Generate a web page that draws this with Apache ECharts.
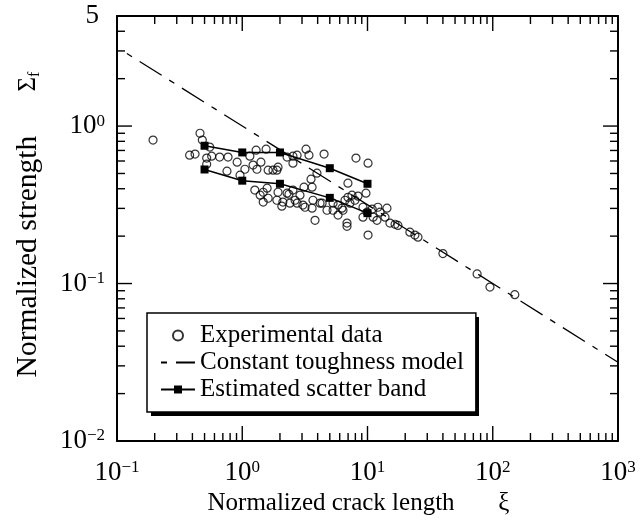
<!DOCTYPE html>
<html>
<head>
<meta charset="utf-8">
<script src="https://cdn.jsdelivr.net/npm/echarts@6/dist/echarts.min.js"></script>
<style>
  html, body { margin: 0; padding: 0; background: #fff; }
  #chart { width: 640px; height: 523px; }
</style>
</head>
<body>
<div id="chart"></div>
<script>
  // experimental data (normalized crack length, normalized strength)
  const expX = [0.194, 0.46, 0.48, 0.55, 0.38, 0.42, 0.52, 0.57, 0.66, 0.77, 0.91, 0.52, 0.755, 0.96, 1.05,
    1.15, 1.29, 1.55, 1.22, 1.41, 1.31, 1.61, 1.76, 1.89, 1.93, 2.28, 2.54, 2.74, 3.23, 3.41,
    2.54, 4.5, 3.95, 3.54, 1.26, 1.47, 1.58, 1.39, 1.61, 1.93, 2.28, 2.54, 2.89, 3.11, 3.61,
    1.47, 1.89, 2.11, 2.4, 2.74, 3.67, 3.05, 4.34, 5.31, 8.09, 10.1, 6.98, 9.72, 2.36, 2.07,
    2.64, 3.17, 3.61, 4.18, 5.82, 6.25, 6.61, 6.98, 7.52, 7.94, 8.4, 7.24, 6.37, 5.31, 4.75,
    5.82, 9.2, 9.91, 10.9, 12.1, 12.6, 14.3, 13.8, 9.2, 11.1, 11.9, 15.1, 16.6, 17.5, 3.81,
    6.86, 6.86, 10.1, 21.8, 23.9, 25.3, 40, 75, 95, 150];
  const expY = [0.815, 0.9, 0.815, 0.735, 0.653, 0.664, 0.626, 0.644, 0.635, 0.635, 0.59, 0.573, 0.517, 0.488, 0.532,
    0.644, 0.703, 0.713, 0.565, 0.59, 0.532, 0.525, 0.525, 0.525, 0.548, 0.635, 0.644, 0.653, 0.713, 0.653,
    0.581, 0.664, 0.502, 0.46, 0.392, 0.38, 0.403, 0.364, 0.348, 0.38, 0.375, 0.392, 0.364, 0.409, 0.409,
    0.329, 0.338, 0.329, 0.324, 0.324, 0.338, 0.315, 0.324, 0.324, 0.626, 0.581, 0.434, 0.375, 0.369, 0.31,
    0.338, 0.305, 0.301, 0.324, 0.315, 0.301, 0.338, 0.353, 0.364, 0.338, 0.359, 0.324, 0.292, 0.292, 0.292,
    0.272, 0.305, 0.284, 0.297, 0.305, 0.284, 0.301, 0.264, 0.264, 0.264, 0.252, 0.242, 0.238, 0.234, 0.252,
    0.242, 0.231, 0.203, 0.212, 0.203, 0.197, 0.155, 0.115, 0.095, 0.085];

  // constant toughness model line
  const modelX = [0.12, 1000];
  const modelY = [2.89, 0.0316];

  // estimated scatter band
  const bandX = [0.5, 1, 2, 5, 10];
  const bandUpper = [0.75, 0.68, 0.68, 0.54, 0.43];
  const bandLower = [0.53, 0.45, 0.43, 0.35, 0.28];

  // tick labels
  const xTicks = [0.1, 1, 10, 100, 1000];
  const xTickExp = ['−1', '0', '1', '2', '3'];
  const yTicks = [0.01, 0.1, 1, 5];
  const yTickBase = ['10', '10', '10', '5'];
  const yTickExp = ['−2', '−1', '0', ''];
  // minor tick positions
  const xMinor = [0.2, 0.3, 0.4, 0.5, 0.6, 0.7, 0.8, 0.9, 2, 3, 4, 5, 6, 7, 8, 9,
    20, 30, 40, 50, 60, 70, 80, 90, 200, 300, 400, 500, 600, 700, 800, 900];
  const yMinor = [0.02, 0.03, 0.04, 0.05, 0.06, 0.07, 0.08, 0.09, 0.2, 0.3, 0.4, 0.5, 0.6, 0.7, 0.8, 0.9, 2, 3, 4];

  const FONT = '"Liberation Serif", "DejaVu Serif", serif';
  const MAJOR = 15;
  const MINOR = 8;

  function findTick(list, v) {
    return list.findIndex(t => Math.abs(Math.log10(t) - Math.log10(v)) < 1e-6);
  }

  const tickRich = {
    b: { fontFamily: FONT, fontSize: 27, color: '#000' },
    c: { fontFamily: FONT, fontSize: 27, color: '#000', padding: [0, 6, 0, 0] },
    s: { fontFamily: FONT, fontSize: 17, color: '#000', verticalAlign: 'top' }
  };
  const frameLine = { show: true, lineStyle: { color: '#000', width: 2 } };

  const chart = echarts.init(document.getElementById('chart'));

  const option = {
    animation: false,
    backgroundColor: '#fff',
    grid: { left: 117, right: 22, top: 16, bottom: 82 },
    legend: {
      orient: 'vertical',
      left: 147,
      top: 313,
      z: 10,
      padding: [10, 12, 10, 13],
      itemGap: 2,
      itemWidth: 34,
      itemHeight: 10,
      backgroundColor: '#fff',
      borderColor: '#000',
      borderWidth: 1.5,
      borderRadius: 0,
      selectedMode: false,
      textStyle: { fontFamily: FONT, fontSize: 25, color: '#000' },
      data: [
        'Experimental data',
        { name: 'Constant toughness model', itemStyle: { opacity: 0 } },
        'Estimated scatter band'
      ]
    },
    xAxis: [{
      type: 'log',
      min: 0.1,
      max: 1000,
      name: 'Normalized crack length       ξ',
      nameLocation: 'middle',
      nameGap: 50,
      nameTextStyle: { fontFamily: FONT, fontSize: 25, color: '#000', padding: [0, 18, 0, 0] },
      axisLine: frameLine,
      axisTick: { show: false },
      splitLine: { show: false },
      axisLabel: {
        margin: 18,
        formatter: v => {
          const i = findTick(xTicks, v);
          return i < 0 ? '' : '{b|10}{s|' + xTickExp[i] + '}';
        },
        rich: tickRich
      }
    }, {
      type: 'log',
      min: 0.1,
      max: 1000,
      position: 'top',
      axisLine: frameLine,
      axisTick: { show: false },
      axisLabel: { show: false },
      splitLine: { show: false }
    }],
    yAxis: [{
      type: 'log',
      min: 0.01,
      max: 5,
      name: 'Normalized strength      {g|Σ}{f|f}',
      nameLocation: 'middle',
      nameGap: 74,
      nameRotate: 90,
      nameTextStyle: {
        fontFamily: FONT, fontSize: 29.5, color: '#000',
        padding: [0, 0, 0, 8],
        rich: {
          g: { fontFamily: FONT, fontSize: 25, color: '#000' },
          f: { fontFamily: FONT, fontSize: 16, color: '#000', verticalAlign: 'bottom' }
        }
      },
      axisLine: frameLine,
      axisTick: { show: false },
      splitLine: { show: false },
      axisLabel: {
        margin: 12,
        showMaxLabel: true,
        formatter: v => {
          const i = findTick(yTicks, v);
          if (i < 0) return '';
          if (!yTickExp[i]) return '{c|' + yTickBase[i] + '}';
          return '{b|' + yTickBase[i] + '}{s|' + yTickExp[i] + '}';
        },
        rich: tickRich
      }
    }, {
      type: 'log',
      min: 0.01,
      max: 5,
      position: 'right',
      axisLine: frameLine,
      axisTick: { show: false },
      axisLabel: { show: false },
      splitLine: { show: false }
    }],
    series: [
      {
        name: 'Experimental data',
        type: 'scatter',
        symbol: 'circle',
        symbolSize: 8,
        itemStyle: { color: 'rgba(255,255,255,0)', borderColor: '#000', borderWidth: 1.2 },
        data: expX.map((x, i) => [x, expY[i]]),
        z: 3
      },
      {
        name: 'Constant toughness model',
        type: 'line',
        showSymbol: false,
        symbol: 'none',
        lineStyle: { color: '#000', width: 1.3, type: [6, 9, 26, 9] },
        itemStyle: { color: '#000' },
        data: modelX.map((x, i) => [x, modelY[i]]),
        z: 2
      },
      {
        name: 'Estimated scatter band',
        type: 'line',
        symbol: 'rect',
        symbolSize: 8,
        lineStyle: { color: '#000', width: 1.5 },
        itemStyle: { color: '#000' },
        data: bandX.map((x, i) => [x, bandUpper[i]]),
        z: 4
      },
      {
        name: 'Estimated scatter band',
        type: 'line',
        symbol: 'rect',
        symbolSize: 8,
        lineStyle: { color: '#000', width: 1.5 },
        itemStyle: { color: '#000' },
        data: bandX.map((x, i) => [x, bandLower[i]]),
        z: 4
      }
    ]
  };

  chart.setOption(option);

  // inward ticks on all four sides, placed through the axes' own scales
  const toPxX = v => chart.convertToPixel({ xAxisIndex: 0 }, v);
  const toPxY = v => chart.convertToPixel({ yAxisIndex: 0 }, v);
  const frameL = toPxX(0.1);
  const frameR = toPxX(1000);
  const frameB = toPxY(0.01);
  const frameT = toPxY(5);
  const tickStyle = { stroke: '#000', lineWidth: 1.4 };
  const tickEls = [];
  function addXTick(v, len) {
    const x = toPxX(v);
    tickEls.push({ type: 'line', silent: true, z: 5, shape: { x1: x, y1: frameB, x2: x, y2: frameB - len }, style: tickStyle });
    tickEls.push({ type: 'line', silent: true, z: 5, shape: { x1: x, y1: frameT, x2: x, y2: frameT + len }, style: tickStyle });
  }
  function addYTick(v, len) {
    const y = toPxY(v);
    tickEls.push({ type: 'line', silent: true, z: 5, shape: { x1: frameL, y1: y, x2: frameL + len, y2: y }, style: tickStyle });
    tickEls.push({ type: 'line', silent: true, z: 5, shape: { x1: frameR, y1: y, x2: frameR - len, y2: y }, style: tickStyle });
  }
  xTicks.forEach(v => addXTick(v, MAJOR));
  xMinor.forEach(v => addXTick(v, MINOR));
  yTicks.forEach(v => addYTick(v, MAJOR));
  yMinor.forEach(v => addYTick(v, MINOR));

  chart.setOption({
    graphic: [{
      // legend drop shadow
      type: 'rect',
      left: 151,
      top: 317,
      z: 0,
      shape: { width: 328, height: 99 },
      style: { fill: '#000' }
    }].concat(tickEls)
  });
</script>
</body>
</html>
